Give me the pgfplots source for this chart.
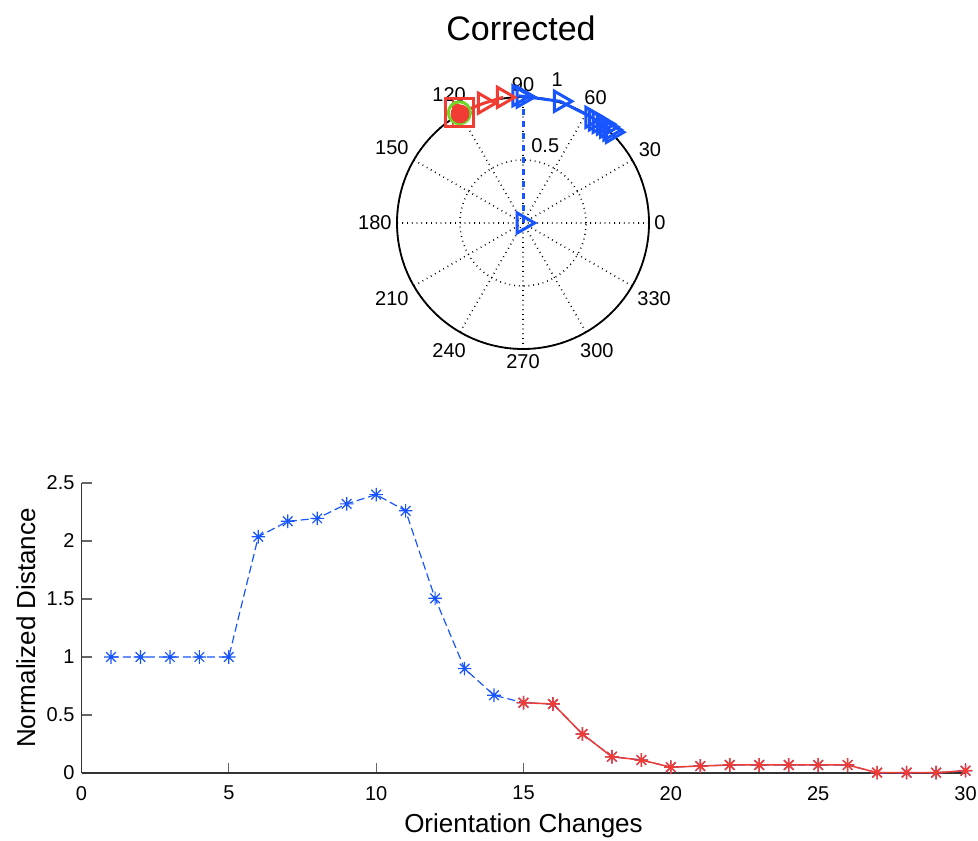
\documentclass[border=0pt]{standalone}
\usepackage{fontspec}
\setmainfont{Liberation Sans}
\usepackage{pgfplots}
\pgfplotsset{compat=1.18}
\usepgfplotslibrary{polar}
\definecolor{mblue}{RGB}{25,85,255}
\definecolor{mred}{RGB}{240,60,50}
\definecolor{mgreen}{RGB}{110,215,40}
\pgfdeclareplotmark{star8}{%
  \pgfpathmoveto{\pgfqpoint{0pt}{\pgfplotmarksize}}\pgfpathlineto{\pgfqpoint{0pt}{-\pgfplotmarksize}}%
  \pgfpathmoveto{\pgfqpoint{\pgfplotmarksize}{0pt}}\pgfpathlineto{\pgfqpoint{-\pgfplotmarksize}{0pt}}%
  \pgfpathmoveto{\pgfqpoint{0.707\pgfplotmarksize}{0.707\pgfplotmarksize}}\pgfpathlineto{\pgfqpoint{-0.707\pgfplotmarksize}{-0.707\pgfplotmarksize}}%
  \pgfpathmoveto{\pgfqpoint{0.707\pgfplotmarksize}{-0.707\pgfplotmarksize}}\pgfpathlineto{\pgfqpoint{-0.707\pgfplotmarksize}{0.707\pgfplotmarksize}}%
  \pgfusepathqstroke}
\pgfplotsset{/pgf/number format/assume math mode=true}
\begin{document}
\begin{tikzpicture}
\path[use as bounding box] (0,0) rectangle (489pt,420pt);
\node[font=\fontsize{17}{18}\selectfont] at (260.5pt,406pt) {Corrected};
\begin{polaraxis}[
  at={(261.5pt,308.5pt)}, anchor=center, scale only axis, width=126pt, height=126pt,
  xmin=0, xmax=360, ymin=0, ymax=1,
  xtick={0,30,...,330}, ytick={0.5,1}, yticklabels={},
  xticklabel={\pgfmathprintnumber{\tick}},
  xticklabel style={font=\fontsize{10}{11}\selectfont, inner sep=2.5pt},
  grid=major, major grid style={black, dotted, line width=0.8pt},
  separate axis lines,
  x axis line style={black, line width=0.9pt},
  y axis line style={draw=none},
  major tick length=0pt,
  clip=false,
]
\addplot[mblue, line width=1.5pt, dashed, mark=triangle, mark size=5.8pt, mark options={solid, rotate=-90}] coordinates {(0,0) (90,1.0)};
\addplot[mblue, line width=1.5pt, mark=triangle, mark size=5.8pt, mark options={solid, rotate=-90}] coordinates {(92,1.01) (73,1.01) (57,1.0) (55,1.0) (53,1.0) (51,1.01) (49,1.01) (47,1.01) (45.5,1.01)};
\addplot[mred, line width=1.5pt, mark=triangle, mark size=5.8pt, mark options={solid, rotate=-90}] coordinates {(120,1.01) (108,1.0) (99,1.01)};
\addplot[mred, line width=1.6pt, only marks, mark=square, mark size=7pt] coordinates {(120,1.01)};
\addplot[mgreen, line width=1.5pt, only marks, mark=o, mark size=5.5pt] coordinates {(120,1.01)};
\addplot[mred, only marks, mark=*, mark size=4.5pt] coordinates {(120,1.0)};
\node[font=\fontsize{10}{11}\selectfont] at (axis cs:74,0.64) {0.5};
\node[font=\fontsize{10}{11}\selectfont] at (axis cs:76.6,1.17) {1};
\end{polaraxis}
\begin{axis}[
  at={(40.75pt,33.5pt)}, anchor=south west, scale only axis, width=442pt, height=145pt,
  xmin=0, xmax=30, ymin=0, ymax=2.5,
  xtick={0,5,...,30}, ytick={0,0.5,...,2.5},
  axis lines*=left, tick align=inside, major tick length=5pt,
  axis line style={black!80, line width=0.6pt}, tick style={black!60, line width=0.6pt},
  ticklabel style={font=\fontsize{10}{11}\selectfont},
  xticklabel style={yshift=-3pt},
  xlabel={Orientation Changes}, ylabel={Normalized Distance},
  label style={font=\fontsize{13}{14}\selectfont},
  xlabel style={at={(axis description cs:0.5,-0.183)}, anchor=center},
  ylabel style={at={(axis description cs:-0.063,0.5)}, anchor=center},
  clip=false,
]
\addplot[mblue, line width=0.6pt, dash pattern=on 4pt off 2pt, mark=star8, mark size=3.4pt, mark options={solid}] coordinates {
(1,1)(2,1)(3,1)(4,1)(5,1)(6,2.037)(7,2.17)(8,2.195)(9,2.32)(10,2.40)(11,2.26)(12,1.506)(13,0.90)(14,0.67)(15,0.606)(16,0.595)(17,0.336)(18,0.14)(19,0.112)(20,0.05)(21,0.06)(22,0.069)(23,0.069)(24,0.069)(25,0.069)(26,0.069)(27,0.003)(28,0.003)(29,0.003)(30,0.02)};
\addplot[mred, line width=0.75pt, mark=star8, mark size=3.4pt] coordinates {
(15,0.606)(16,0.595)(17,0.336)(18,0.14)(19,0.112)(20,0.05)(21,0.06)(22,0.069)(23,0.069)(24,0.069)(25,0.069)(26,0.069)(27,0.003)(28,0.003)(29,0.003)(30,0.02)};
\end{axis}
\end{tikzpicture}
\end{document}
